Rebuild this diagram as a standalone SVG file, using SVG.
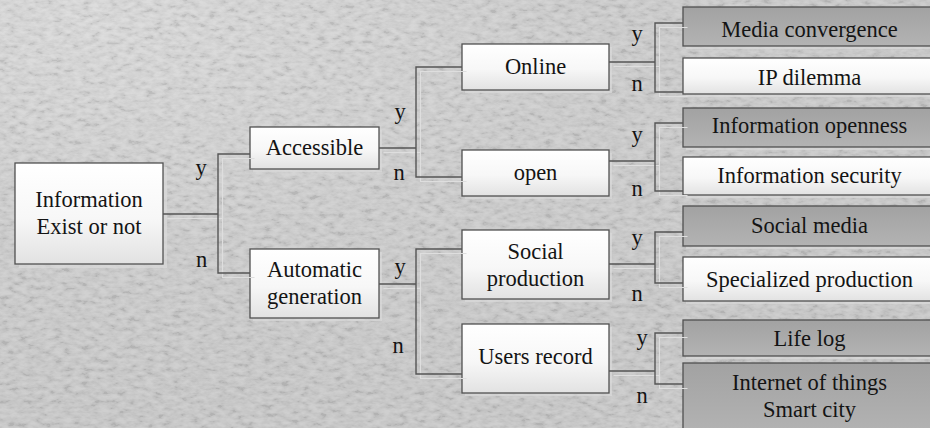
<svg xmlns="http://www.w3.org/2000/svg" width="930" height="428" viewBox="0 0 930 428">
  <defs>
    <!-- fine stone-like grain for the backdrop -->
    <filter id="grain" x="0" y="0" width="930" height="428" filterUnits="userSpaceOnUse">
      <feTurbulence type="fractalNoise" baseFrequency="0.11 0.22" numOctaves="3" seed="7" result="n"/>
      <feColorMatrix in="n" type="matrix" values="2 0 0 0 -0.5  2 0 0 0 -0.5  2 0 0 0 -0.5  0 0 0 0 1"/>
    </filter>
    <radialGradient id="bgTone" cx="0.1" cy="0.05" r="0.9">
      <stop offset="0" stop-color="#dadada"/>
      <stop offset="0.6" stop-color="#cdcdcd"/>
      <stop offset="1" stop-color="#c9c9c9"/>
    </radialGradient>
    <linearGradient id="whiteFill" x1="0" y1="0" x2="0" y2="1">
      <stop offset="0" stop-color="#ffffff"/>
      <stop offset="0.55" stop-color="#f7f7f7"/>
      <stop offset="1" stop-color="#e2e2e2"/>
    </linearGradient>
    <linearGradient id="grayFill" x1="0" y1="0" x2="0" y2="1">
      <stop offset="0" stop-color="#a2a2a2"/>
      <stop offset="1" stop-color="#b3b3b3"/>
    </linearGradient>
    <style>
      .box { stroke: #505050; stroke-width: 1.3; }
      .white { fill: url(#whiteFill); }
      .gray { fill: url(#grayFill); }
      .shadow { fill: #dadada; opacity: 0.7; }
      .t { font-family: "Liberation Serif", "Times New Roman", "DejaVu Serif", serif; font-size: 22.5px; fill: #141414; text-anchor: middle; }
      .wire { fill: none; stroke: #555555; stroke-width: 1.4; }
      .wire-shadow { fill: none; stroke: #dedede; stroke-width: 1.1; }
    </style>
  </defs>

  <!-- backdrop -->
  <rect x="0" y="0" width="930" height="428" fill="url(#bgTone)"/>
  <rect x="0" y="0" width="930" height="428" filter="url(#grain)" opacity="0.11"/>

  <!-- root -->
  <g id="node-information">
    <rect class="shadow" x="19" y="167" width="148" height="101"/>
    <rect class="box white" x="15" y="163" width="148" height="101"/>
    <text class="t" x="89" y="206.5">Information</text>
    <text class="t" x="89" y="234">Exist or not</text>
  </g>

  <!-- second level -->
  <g id="node-accessible">
    <rect class="shadow" x="253" y="130" width="129" height="42"/>
    <rect class="box white" x="250" y="127" width="129" height="42"/>
    <text class="t" x="314.5" y="155">Accessible</text>
  </g>
  <g id="node-automatic">
    <rect class="shadow" x="253" y="252" width="129" height="69"/>
    <rect class="box white" x="250" y="249" width="129" height="69"/>
    <text class="t" x="314.5" y="276.5">Automatic</text>
    <text class="t" x="314.5" y="303.5">generation</text>
  </g>

  <!-- third level -->
  <g id="node-online">
    <rect class="shadow" x="465" y="47" width="147" height="46"/>
    <rect class="box white" x="462" y="44" width="147" height="46"/>
    <text class="t" x="535.5" y="73.5">Online</text>
  </g>
  <g id="node-open">
    <rect class="shadow" x="465" y="153" width="147" height="46"/>
    <rect class="box white" x="462" y="150" width="147" height="46"/>
    <text class="t" x="535.5" y="179.5">open</text>
  </g>
  <g id="node-social-production">
    <rect class="shadow" x="465" y="233" width="147" height="69"/>
    <rect class="box white" x="462" y="230" width="147" height="69"/>
    <text class="t" x="535.5" y="258.5">Social</text>
    <text class="t" x="535.5" y="285.5">production</text>
  </g>
  <g id="node-users-record">
    <rect class="shadow" x="465" y="327" width="147" height="69"/>
    <rect class="box white" x="462" y="324" width="147" height="69"/>
    <text class="t" x="535.5" y="364">Users record</text>
  </g>

  <!-- outcomes -->
  <g id="node-media-convergence">
    <rect class="shadow" x="686" y="10" width="253" height="39"/>
    <rect class="box gray" x="683" y="7" width="253" height="39"/>
    <text class="t" x="809.5" y="37">Media convergence</text>
  </g>
  <g id="node-ip-dilemma">
    <rect class="shadow" x="686" y="61" width="253" height="36"/>
    <rect class="box white" x="683" y="58" width="253" height="36"/>
    <text class="t" x="809.5" y="85">IP dilemma</text>
  </g>
  <g id="node-information-openness">
    <rect class="shadow" x="686" y="111" width="253" height="39"/>
    <rect class="box gray" x="683" y="108" width="253" height="39"/>
    <text class="t" x="809.5" y="133">Information openness</text>
  </g>
  <g id="node-information-security">
    <rect class="shadow" x="686" y="160" width="253" height="38"/>
    <rect class="box white" x="683" y="157" width="253" height="38"/>
    <text class="t" x="809.5" y="183">Information security</text>
  </g>
  <g id="node-social-media">
    <rect class="shadow" x="686" y="209" width="253" height="40"/>
    <rect class="box gray" x="683" y="206" width="253" height="40"/>
    <text class="t" x="809.5" y="233">Social media</text>
  </g>
  <g id="node-specialized-production">
    <rect class="shadow" x="686" y="260" width="253" height="44"/>
    <rect class="box white" x="683" y="257" width="253" height="44"/>
    <text class="t" x="809.5" y="287">Specialized production</text>
  </g>
  <g id="node-life-log">
    <rect class="shadow" x="686" y="323" width="253" height="36"/>
    <rect class="box gray" x="683" y="320" width="253" height="36"/>
    <text class="t" x="809.5" y="346">Life log</text>
  </g>
  <g id="node-iot-smart-city">
    <rect class="shadow" x="686" y="366" width="253" height="70"/>
    <rect class="box gray" x="683" y="363" width="253" height="70"/>
    <text class="t" x="809.5" y="390">Internet of things</text>
    <text class="t" x="809.5" y="417">Smart city</text>
  </g>

  <!-- elbow connectors with their soft offset shadows and y/n labels -->
  <g id="connectors">
    <g transform="translate(4.5,4.5)" class="wire-shadow">
      <path d="M163,214 H218 M250,154 H218 V273 H250"/>
      <path d="M379,148 H416 M462,67 H416 V177 H462"/>
      <path d="M379,284 H416 M462,249 H416 V374 H462"/>
      <path d="M609,62 H655 M683,23 H655 V92 H683"/>
      <path d="M609,161 H655 M683,123 H655 V191 H683"/>
      <path d="M609,264 H655 M683,232 H655 V283 H683"/>
      <path d="M609,371 H655 M683,333 H655 V384 H683"/>
    </g>
    <g class="wire">
      <path d="M163,214 H218 M250,154 H218 V273 H250"/>
      <path d="M379,148 H416 M462,67 H416 V177 H462"/>
      <path d="M379,284 H416 M462,249 H416 V374 H462"/>
      <path d="M609,62 H655 M683,23 H655 V92 H683"/>
      <path d="M609,161 H655 M683,123 H655 V191 H683"/>
      <path d="M609,264 H655 M683,232 H655 V283 H683"/>
      <path d="M609,371 H655 M683,333 H655 V384 H683"/>
    </g>
    <g class="labels">
      <text class="t" x="201" y="175">y</text>
      <text class="t" x="201.5" y="267">n</text>
      <text class="t" x="400" y="118.5">y</text>
      <text class="t" x="399" y="180">n</text>
      <text class="t" x="400" y="273.5">y</text>
      <text class="t" x="398" y="353">n</text>
      <text class="t" x="637" y="41">y</text>
      <text class="t" x="637" y="91">n</text>
      <text class="t" x="637" y="142">y</text>
      <text class="t" x="637" y="196">n</text>
      <text class="t" x="637" y="244.5">y</text>
      <text class="t" x="637" y="301">n</text>
      <text class="t" x="642" y="345">y</text>
      <text class="t" x="642" y="403">n</text>
    </g>
  </g>
</svg>
